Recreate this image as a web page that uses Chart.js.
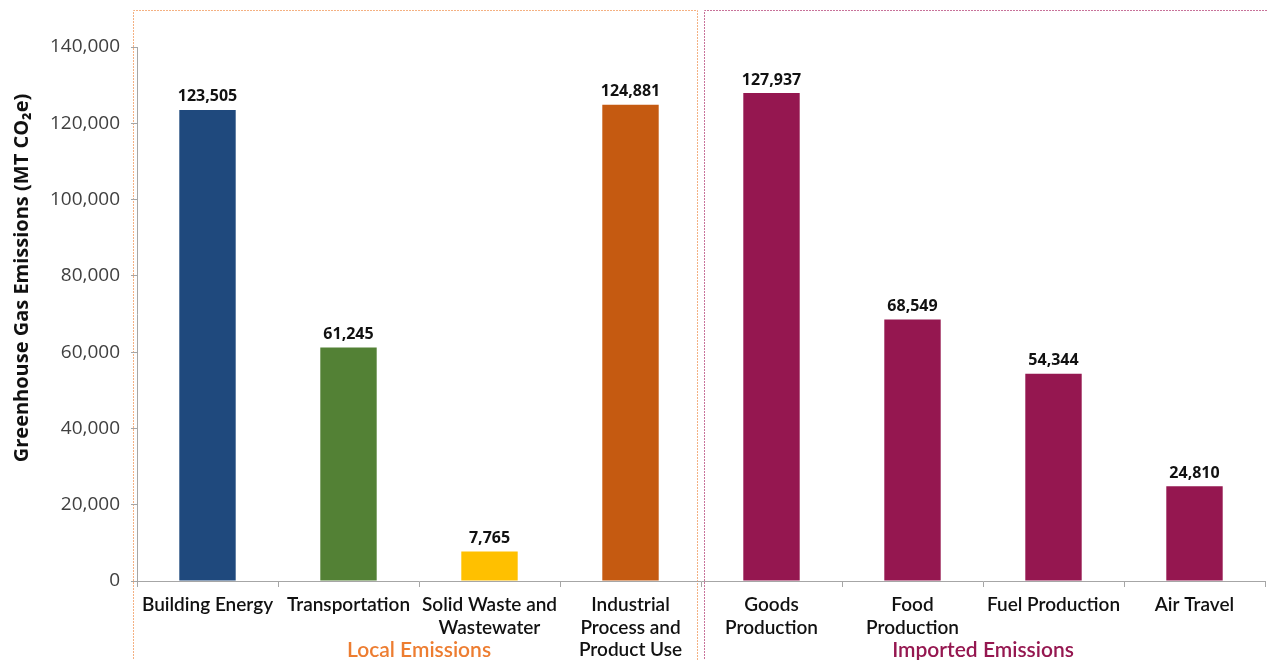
<!DOCTYPE html>
<html>
<head>
<meta charset="utf-8">
<script src="https://cdn.jsdelivr.net/npm/chart.js@4"></script>
<style>
  html, body { margin: 0; padding: 0; background: #fff; }
  #wrap { width: 1267px; height: 660px; }
</style>
</head>
<body>
<div id="wrap"><canvas id="chart-canvas" width="1267" height="660"></canvas></div>
<script>
// chart data
const categories = [
    ["Building Energy"],
    ["Transportation"],
    ["Solid Waste and", "Wastewater"],
    ["Industrial", "Process and", "Product Use"],
    ["Goods", "Production"],
    ["Food", "Production"],
    ["Fuel Production"],
    ["Air Travel"]
];
const emissions = [123505, 61245, 7765, 124881, 127937, 68549, 54344, 24810];
const barColors = ["#1F497D", "#538135", "#FFC000", "#C55A11", "#951750", "#951750", "#951750", "#951750"];
const groups = [
    { name: "Local Emissions", first: 0, last: 3, color: "#ED7D31", box: "#F4B183" },
    { name: "Imported Emissions", first: 4, last: 7, color: "#951750", box: "#C8739A" }
];
const yTicks = [0, 20000, 40000, 60000, 80000, 100000, 120000, 140000];
const yTitle = "Greenhouse Gas Emissions (MT CO₂e)";

// values above the bars
const valueLabels = {
    id: "valueLabels",
    afterDatasetsDraw(chart) {
        const ctx = chart.ctx;
        const meta = chart.getDatasetMeta(0);
        ctx.save();
        ctx.font = "bold 16px 'Open Sans'";
        ctx.fillStyle = "#111";
        ctx.textAlign = "center";
        ctx.textBaseline = "bottom";
        meta.data.forEach((bar, i) => {
            ctx.fillText(emissions[i].toLocaleString("en-US"), bar.x, bar.y - 5);
        });
        ctx.restore();
    }
};

// dashed group boxes, group names and the y title
const groupBoxes = {
    id: "groupBoxes",
    beforeDraw(chart) {
        const ctx = chart.ctx;
        const x = chart.scales.x;
        const half = (x.getPixelForValue(1) - x.getPixelForValue(0)) / 2;
        ctx.save();
        groups.forEach((g, gi) => {
            let left = x.getPixelForValue(g.first) - half;
            let right = x.getPixelForValue(g.last) + half;
            left += gi === 0 ? -4 : 3;
            right += gi === 0 ? -3 : 4;
            ctx.strokeStyle = g.box;
            ctx.lineWidth = 1;
            ctx.setLineDash([2, 1]);
            ctx.beginPath();
            ctx.moveTo(left + 0.5, chart.height + 5);
            ctx.lineTo(left + 0.5, 10.5);
            ctx.lineTo(right - 0.5, 10.5);
            ctx.lineTo(right - 0.5, chart.height + 5);
            ctx.stroke();
        });
        ctx.restore();
    },
    afterDraw(chart) {
        const ctx = chart.ctx;
        const x = chart.scales.x;
        ctx.save();
        ctx.font = "600 21px Lato";
        ctx.textAlign = "center";
        ctx.textBaseline = "middle";
        groups.forEach(g => {
            const mid = (x.getPixelForValue(g.first) + x.getPixelForValue(g.last)) / 2;
            ctx.fillStyle = g.color;
            ctx.fillText(g.name, mid, 650);
        });
        ctx.translate(22, 278);
        ctx.rotate(-Math.PI / 2);
        ctx.font = "bold 20px 'Open Sans'";
        ctx.fillStyle = "#111";
        ctx.fillText(yTitle, 0, 0);
        ctx.restore();
    }
};

const chart = new Chart(document.getElementById("chart-canvas"), {
    type: "bar",
    data: {
        labels: categories,
        datasets: [{
            data: emissions,
            backgroundColor: barColors,
            barPercentage: 0.4,
            categoryPercentage: 1
        }]
    },
    options: {
        responsive: false,
        animation: false,
        layout: { padding: { top: 47, right: 2, left: 0, bottom: 0 } },
        plugins: {
            legend: { display: false },
            tooltip: { enabled: false }
        },
        scales: {
            x: {
                grid: { display: true, drawOnChartArea: false, tickLength: 6, color: "#a6a6a6" },
                border: { color: "#a6a6a6" },
                ticks: {
                    autoSkip: false,
                    maxRotation: 0,
                    color: "#111",
                    padding: 7,
                    font: { family: "Lato", size: 19, weight: "600", lineHeight: 1.18 }
                },
                afterFit(scale) { scale.height = 79; }
            },
            y: {
                min: 0,
                max: 140000,
                afterBuildTicks(scale) { scale.ticks = yTicks.map(v => ({ value: v })); },
                grid: { display: true, drawOnChartArea: false, tickLength: 6, color: "#a6a6a6" },
                border: { color: "#a6a6a6" },
                ticks: {
                    color: "#404040",
                    padding: 11,
                    font: { family: "Open Sans", size: 19 },
                    callback: v => v.toLocaleString("en-US")
                },
                afterFit(scale) { scale.width = 137; }
            }
        }
    },
    plugins: [valueLabels, groupBoxes]
});
</script>
</body>
</html>
